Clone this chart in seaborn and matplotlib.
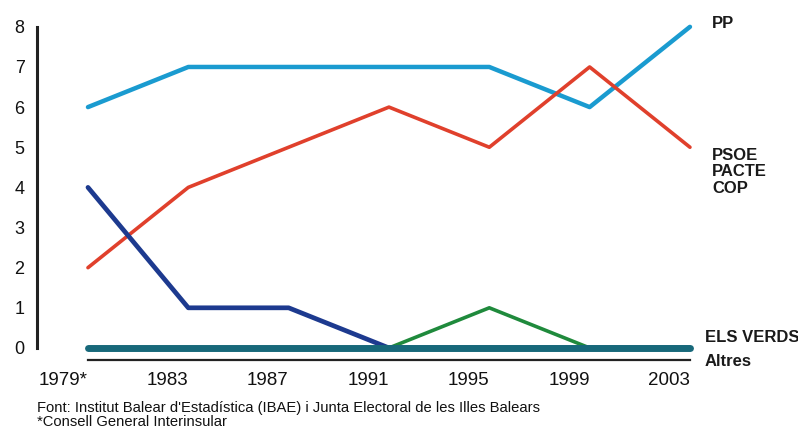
import pandas as pd
import matplotlib.pyplot as plt
import seaborn as sns

# Dades: escons per partit i eleccions
anys = ['1979*', '1983', '1987', '1991', '1995', '1999', '2003']
pp = [6, 7, 7, 7, 7, 6, 8]
psoe = [2, 4, 5, 6, 5, 7, 5]
ucd = [4, 1, 1, 0, 0, 0, 0]
verds = [0, 0, 0, 0, 1, 0, 0]
altres = [0, 0, 0, 0, 0, 0, 0]

series = {'PP': pp, 'PSOE': psoe, 'UCD': ucd, 'ELS VERDS': verds, 'Altres': altres}
colors = {'PP': '#1a9bd0', 'PSOE': '#e0402c', 'UCD': '#1d3a8f',
          'ELS VERDS': '#1f8a3c', 'Altres': '#17687a'}
widths = {'PP': 3.2, 'PSOE': 2.6, 'UCD': 3.4, 'ELS VERDS': 2.6, 'Altres': 5.0}

df = pd.DataFrame([
    {'pos': i, 'partit': nom, 'escons': v}
    for nom, vals in series.items() for i, v in enumerate(vals)
])

sns.set_style('white')
plt.rcParams['font.family'] = ['Liberation Sans', 'DejaVu Sans']

fig = plt.figure(figsize=(7.98, 4.33), dpi=100)
ax = fig.add_axes([37 / 798, 71 / 433, 663 / 798, 342 / 433])

for nom in series:
    sns.lineplot(data=df[df['partit'] == nom], x='pos', y='escons', ax=ax,
                 color=colors[nom], lw=widths[nom], solid_capstyle='round',
                 legend=False)

ax.set_xlim(-0.508, 6.10)
ax.set_ylim(-0.35, 8.17)
ax.set_xlabel('')
ax.set_ylabel('')

# eixos
for s in ['top', 'right']:
    ax.spines[s].set_visible(False)
ax.spines['left'].set_bounds(0, 8)
ax.spines['left'].set_linewidth(2.2)
ax.spines['left'].set_color('#222222')
ax.spines['bottom'].set_position(('data', -0.3))
ax.spines['bottom'].set_bounds(0, 6)
ax.spines['bottom'].set_linewidth(1.6)
ax.spines['bottom'].set_color('#222222')

ax.set_yticks(range(0, 9))
ax.set_xticks(range(len(anys)))
ax.set_xticklabels(anys, ha='right')
ax.tick_params(axis='y', direction='in', length=5, width=1.6, color='#222222',
               labelsize=13, pad=9, labelcolor='#111111')
ax.tick_params(axis='x', direction='in', length=6, width=1.4, color='#222222',
               labelsize=13.5, pad=9, labelcolor='#111111')
ax.grid(False)

# etiquetes a la dreta
etiq = dict(fontsize=12, fontweight='bold', color='#1a1a1a', va='center', ha='left')
fig.text(712 / 798, 1 - 23 / 433, 'PP', **etiq)
fig.text(712 / 798, 1 - 172 / 433, 'PSOE\nPACTE\nCOP', linespacing=1.1, **etiq)
fig.text(705 / 798, 1 - 338 / 433, 'ELS VERDS', **etiq)
fig.text(705 / 798, 1 - 361 / 433, 'Altres', **etiq)

fig.text(37 / 798, 1 - 408 / 433,
         "Font: Institut Balear d'Estadística (IBAE) i Junta Electoral de les Illes Balears",
         fontsize=10.6, color='#111111', va='center')
fig.text(37 / 798, 1 - 422 / 433, '*Consell General Interinsular',
         fontsize=10.6, color='#111111', va='center')

fig.savefig('out.png', dpi=100, facecolor='white')
